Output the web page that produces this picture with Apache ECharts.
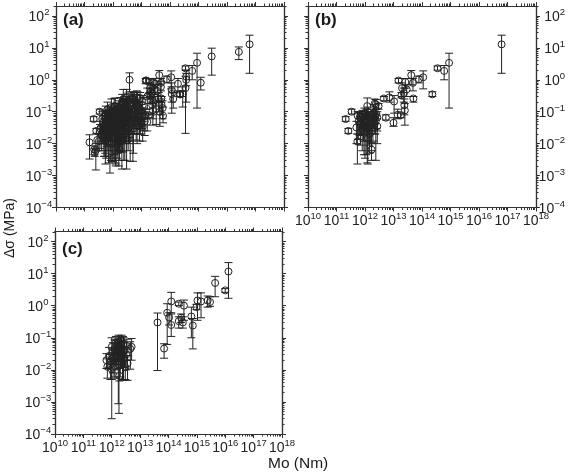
<!DOCTYPE html>
<html>
<head>
<meta charset="utf-8">
<title>Stress drop vs moment</title>
<script src="https://cdn.jsdelivr.net/npm/echarts@6/dist/echarts.min.js"></script>
<style>
  html, body { margin: 0; padding: 0; background: #fff; }
  #chart { width: 568px; height: 473px; }
</style>
</head>
<body>
<div id="chart"></div>
<script>
// tick decades
const xDecades = [10, 11, 12, 13, 14, 15, 16, 17, 18]
const yDecades = [-4, -3, -2, -1, 0, 1, 2]

// panel (b) events
const bMo = [
  6.2e16, 8.9e14, 6e14, 3.5e14, 2.3e14, 1.1e14, 7.8e13, 4.2e13, 4.8e13, 5e13,
  2.5e13, 2.4e13, 1.5e13, 2.6e13, 2.9e13, 1.9e13, 2e13, 1.05e13, 7.2e12, 5.4e12,
  4.6e12, 1e13, 1.4e13, 1.8e13, 2.3e13, 3.4e11, 2.1e11, 2.6e11, 5.4e11, 1.7e12,
  1.2e12, 2.2e12, 3e12, 2.4e12, 5e11, 5.5e11, 6e11, 6.5e11, 7e11, 7.5e11,
  8e11, 8.2e11, 8.8e11, 9.2e11, 9.5e11, 1e12, 1e12, 1.1e12, 1.15e12, 1.2e12,
  1.25e12, 1.3e12, 1.3e12, 1.4e12, 1.45e12, 1.5e12, 1.6e12, 1.7e12, 1.8e12, 1.9e12,
  2e12, 2.2e12, 2.3e12, 2.4e12, 2.5e12, 2.7e12, 2.7e12
]
const bStress = [
  12.9, 3.4, 1.9, 2.3, 0.35, 1.2, 1.05, 1.4, 0.8, 0.26,
  0.11, 0.16, 0.95, 0.85, 0.5, 0.33, 0.55, 0.21, 0.28, 0.065,
  0.26, 0.045, 0.08, 0.078, 0.38, 0.1, 0.059, 0.025, 0.0117, 0.0065,
  0.15, 0.18, 0.15, 0.17, 0.032, 0.075, 0.05, 0.068, 0.04, 0.062,
  0.028, 0.08, 0.05, 0.035, 0.09, 0.022, 0.06, 0.045, 0.075, 0.03,
  0.015, 0.055, 0.095, 0.038, 0.02, 0.07, 0.048, 0.032, 0.085, 0.06,
  0.09, 0.042, 0.07, 0.052, 0.085, 0.066, 0.035
]
const bLow = [
  1.6, 0.13, 1, 2, 0.3, 0.52, 0.8, 0.7, 0.45, 0.2,
  0.038, 0.08, 0.8, 0.55, 0.3, 0.27, 0.3, 0.09, 0.2, 0.055,
  0.22, 0.035, 0.06, 0.065, 0.2, 0.085, 0.05, 0.021, 0.0023, 0.003,
  0.03, 0.06, 0.12, 0.12, 0.01, 0.02, 0.0135, 0.018, 0.009, 0.02,
  0.006, 0.03, 0.012, 0.0045, 0.03, 0.0035, 0.02, 0.0045, 0.025, 0.0025,
  0.0023, 0.012, 0.03, 0.009, 0.005, 0.02, 0.01, 0.006, 0.025, 0.012,
  0.03, 0.02, 0.02, 0.003, 0.03, 0.025, 0.01
]
const bHigh = [
  25, 6.8, 2.8, 2.7, 0.42, 1.9, 1.3, 1.95, 1.1, 0.3,
  0.18, 0.25, 1.1, 1.1, 0.7, 0.4, 0.8, 0.32, 0.42, 0.08,
  0.3, 0.065, 0.12, 0.09, 0.55, 0.12, 0.07, 0.03, 0.02, 0.011,
  0.27, 0.25, 0.18, 0.24, 0.05, 0.1, 0.09, 0.1, 0.07, 0.09,
  0.05, 0.11, 0.09, 0.06, 0.13, 0.04, 0.1, 0.08, 0.12, 0.05,
  0.03, 0.09, 0.14, 0.065, 0.035, 0.1, 0.08, 0.05, 0.12, 0.09,
  0.17, 0.07, 0.1, 0.09, 0.13, 0.1, 0.06
]

// events only in panel (a), which shows (b) plus these
const extraMo = [
  2.6e16, 2.9e15, 1.2e15, 3.5e14, 3.7e14, 3.7e14, 1.9e14, 2.2e14, 2.8e14, 1.15e14,
  1.15e14, 1.3e14, 5.7e13, 3.8e12, 5e12, 1.5e11, 2.2e11, 2.3e11, 2.5e11, 2.8e11,
  1.4e13, 1.6e13, 2e13, 2.2e13, 2.6e13, 3e13, 3.3e13, 3.6e13, 4e13, 4.4e13,
  4.8e13, 5e13, 5.5e13, 7e12, 8e12, 9e12, 1.1e13, 1.2e13, 1.3e13, 1.6e13,
  6e12, 6.5e12, 7.5e12, 8.5e12, 9.5e12, 4.5e12, 5e12, 5.5e12, 3.5e12, 4e12,
  3.2e11, 3.6e11, 4e11, 4.4e11, 4.8e11, 5e11, 5.4e11, 5.8e11, 6.2e11, 6.6e11,
  7e11, 7.4e11, 7.8e11, 8e11, 8.4e11, 8.8e11, 9.2e11, 9.6e11, 1e12, 1.05e12,
  1.1e12, 1.15e12, 1.2e12, 1.25e12, 1.3e12, 1.35e12, 1.4e12, 1.5e12, 1.55e12, 1.6e12,
  1.7e12, 1.75e12, 1.8e12, 1.9e12, 2e12, 2.05e12, 2.1e12, 2.2e12, 2.3e12, 2.35e12,
  2.5e12, 2.6e12, 2.7e12, 2.9e12, 3e12, 3.2e12, 3.4e12, 3.5e12, 3.8e12, 4e12,
  1.5e12, 2e12, 2.5e12, 1e12, 1.2e12, 1.6e12, 2.2e12, 2.8e12, 3.2e12, 3.6e12,
  3.5e11, 4.2e11, 4.6e11, 5.2e11, 5.6e11, 6e11, 6.4e11, 6.8e11, 7.2e11, 7.6e11,
  4.2e12, 4.6e12, 5.2e12, 5.8e12, 6.4e12, 7e12, 7.8e12, 8.8e12, 1e13, 1.1e13,
  1.1e12, 1.6e12, 2.1e12, 2.6e12, 3e12, 3.4e12, 4.8e12, 5.5e12, 6.8e12, 9e12
]
const extraStress = [
  7.5, 5.4, 0.81, 0.55, 1.25, 1, 0.75, 0.35, 0.37, 0.48,
  0.36, 0.25, 0.075, 1, 0.25, 0.011, 0.0065, 0.0052, 0.0063, 0.013,
  0.95, 0.3, 0.42, 0.6, 0.2, 0.75, 0.12, 0.45, 0.25, 0.1,
  0.6, 0.17, 0.13, 0.14, 0.09, 0.05, 0.16, 0.07, 0.05, 0.048,
  0.1, 0.05, 0.07, 0.035, 0.11, 0.08, 0.04, 0.13, 0.06, 0.09,
  0.012, 0.03, 0.02, 0.045, 0.013, 0.07, 0.025, 0.015, 0.055, 0.035,
  0.02, 0.075, 0.012, 0.045, 0.03, 0.14, 0.01, 0.06, 0.022, 0.1,
  0.04, 0.015, 0.07, 0.028, 0.11, 0.05, 0.018, 0.085, 0.035, 0.008,
  0.06, 0.02, 0.16, 0.04, 0.1, 0.012, 0.07, 0.03, 0.25, 0.05,
  0.085, 0.022, 0.18, 0.045, 0.013, 0.075, 0.03, 0.12, 0.055, 0.02,
  0.045, 0.055, 0.065, 0.08, 0.055, 0.065, 0.09, 0.1, 0.14, 0.065,
  0.022, 0.06, 0.035, 0.018, 0.09, 0.04, 0.12, 0.03, 0.05, 0.085,
  0.15, 0.055, 0.03, 0.085, 0.2, 0.035, 0.12, 0.065, 0.1, 0.033,
  0.15, 0.12, 0.2, 0.15, 0.27, 0.22, 0.25, 0.28, 0.27, 0.27
]
const extraLow = [
  4.3, 1.4, 0.48, 0.021, 0.65, 0.2, 0.45, 0.3, 0.14, 0.2,
  0.09, 0.13, 0.045, 0.42, 0.2, 0.0033, 0.0045, 0.004, 0.0015, 0.006,
  0.75, 0.12, 0.18, 0.28, 0.06, 0.35, 0.04, 0.2, 0.1, 0.035,
  0.25, 0.08, 0.06, 0.05, 0.03, 0.02, 0.05, 0.025, 0.018, 0.025,
  0.03, 0.013, 0.02, 0.012, 0.03, 0.02, 0.0028, 0.04, 0.012, 0.02,
  0.006, 0.012, 0.006, 0.015, 0.004, 0.025, 0.005, 0.0035, 0.015, 0.006,
  0.0025, 0.025, 0.0012, 0.012, 0.003, 0.06, 0.0028, 0.018, 0.0028, 0.035,
  0.008, 0.003, 0.02, 0.002, 0.03, 0.009, 0.0035, 0.02, 0.006, 0.002,
  0.012, 0.0055, 0.06, 0.0055, 0.03, 0.0016, 0.015, 0.0055, 0.11, 0.012,
  0.025, 0.003, 0.06, 0.012, 0.0016, 0.02, 0.006, 0.035, 0.01, 0.0028,
  0.01, 0.012, 0.014, 0.02, 0.012, 0.013, 0.02, 0.03, 0.05, 0.015,
  0.007, 0.02, 0.01, 0.004, 0.03, 0.008, 0.045, 0.004, 0.012, 0.025,
  0.05, 0.012, 0.005, 0.02, 0.07, 0.01, 0.035, 0.02, 0.03, 0.012,
  0.06, 0.05, 0.07, 0.05, 0.12, 0.08, 0.1, 0.12, 0.1, 0.13
]
const extraHigh = [
  10.7, 9.8, 1.2, 1.3, 2, 1.6, 1.1, 0.42, 0.6, 0.8,
  0.6, 0.4, 0.14, 1.65, 0.35, 0.019, 0.0085, 0.007, 0.01, 0.02,
  1.1, 0.55, 0.7, 1, 0.35, 1.1, 0.22, 0.7, 0.4, 0.2,
  0.9, 0.3, 0.22, 0.25, 0.16, 0.09, 0.28, 0.13, 0.09, 0.08,
  0.18, 0.09, 0.12, 0.06, 0.2, 0.14, 0.07, 0.22, 0.11, 0.16,
  0.02, 0.05, 0.035, 0.075, 0.022, 0.11, 0.04, 0.028, 0.09, 0.06,
  0.035, 0.12, 0.022, 0.08, 0.055, 0.25, 0.018, 0.1, 0.04, 0.16,
  0.07, 0.028, 0.12, 0.05, 0.18, 0.09, 0.032, 0.14, 0.06, 0.014,
  0.1, 0.035, 0.28, 0.07, 0.16, 0.022, 0.12, 0.055, 0.5, 0.09,
  0.14, 0.04, 0.3, 0.08, 0.025, 0.13, 0.055, 0.2, 0.1, 0.035,
  0.08, 0.09, 0.11, 0.13, 0.09, 0.11, 0.15, 0.17, 0.25, 0.11,
  0.04, 0.1, 0.06, 0.032, 0.15, 0.07, 0.2, 0.055, 0.09, 0.14,
  0.26, 0.095, 0.055, 0.15, 0.35, 0.06, 0.2, 0.11, 0.17, 0.06,
  0.26, 0.22, 0.35, 0.26, 0.5, 0.38, 0.42, 0.4, 0.45, 0.4
]

// panel (c) events
const cMo = [
  1.3e16, 1e16, 4.4e15, 2.4e15, 2.9e15, 1.4e15, 1.05e15, 9.6e14, 7.2e14, 6.4e14,
  3.5e14, 2.3e14, 2.8e14, 3.2e14, 2.3e14, 1.25e14, 1.25e14, 1.05e14, 9e13, 7e13,
  4.1e13, 6.5e11, 7e11, 8e11, 9e11, 1e12, 1e12, 1.1e12, 1.2e12, 1.25e12,
  1.3e12, 1.4e12, 1.5e12, 1.5e12, 1.6e12, 1.7e12, 1.75e12, 1.8e12, 1.85e12, 1.9e12,
  2e12, 2e12, 2.1e12, 2.2e12, 2.3e12, 2.4e12, 2.5e12, 2.6e12, 2.8e12, 3e12,
  3.2e12, 3.4e12, 3.6e12, 4.5e12, 5e12, 1.1e12, 1.4e12, 1.7e12, 2.2e12, 2.6e12
]
const cStress = [
  11.6, 3, 5.1, 1.45, 1.3, 1.35, 1.45, 0.9, 0.24, 0.46,
  1, 1.15, 0.42, 0.3, 0.33, 1.35, 0.25, 0.43, 0.6, 0.046,
  0.3, 0.02, 0.0125, 0.027, 0.018, 0.052, 0.0105, 0.035, 0.02, 0.045,
  0.013, 0.07, 0.028, 0.04, 0.055, 0.015, 0.075, 0.032, 0.0065, 0.05,
  0.022, 0.06, 0.035, 0.08, 0.045, 0.028, 0.065, 0.02, 0.04, 0.012,
  0.03, 0.055, 0.016, 0.045, 0.052, 0.025, 0.05, 0.042, 0.03, 0.06
]
const cLow = [
  1.7, 2.6, 1.9, 0.9, 0.95, 0.42, 0.35, 0.75, 0.045, 0.1,
  0.35, 1, 0.3, 0.2, 0.2, 0.6, 0.11, 0.25, 0.062, 0.023,
  0.0095, 0.011, 0.0055, 0.012, 0.005, 0.0003, 0.005, 0.015, 0.006, 0.02,
  0.0055, 0.03, 0.01, 0.015, 0.02, 0.00088, 0.03, 0.00044, 0.0045, 0.02,
  0.006, 0.025, 0.012, 0.03, 0.015, 0.005, 0.025, 0.0047, 0.012, 0.005,
  0.01, 0.02, 0.0047, 0.0105, 0.02, 0.008, 0.018, 0.014, 0.012, 0.02
]
const cHigh = [
  22, 3.4, 8.2, 2, 1.9, 2.5, 2.5, 1.1, 0.4, 0.9,
  1.5, 1.3, 0.55, 0.45, 0.45, 2.6, 0.55, 0.6, 1.15, 0.065,
  0.59, 0.032, 0.022, 0.05, 0.03, 0.1, 0.018, 0.07, 0.035, 0.085,
  0.022, 0.11, 0.05, 0.07, 0.09, 0.025, 0.12, 0.055, 0.011, 0.08,
  0.04, 0.1, 0.06, 0.12, 0.08, 0.05, 0.11, 0.035, 0.07, 0.02,
  0.05, 0.09, 0.028, 0.075, 0.095, 0.045, 0.085, 0.07, 0.05, 0.1
]

const FONT = '"Liberation Sans", Arial, sans-serif'
const INK = '#222'
const AXIS_INK = '#333'
const X_MIN = 1e10
const X_MAX = 1.0001e18 // a bare 1e18 drops the last tick to rounding
const Y_MIN = 1e-4
const Y_MAX = 205

function minorsOf (decades, limit) {
  const list = []
  decades.forEach(d => {
    for (let m = 2; m <= 9; m++) {
      const v = Number(m + 'e' + d)
      if (v < limit) list.push(v)
    }
  })
  return list
}

const xMajors = xDecades.map(d => Number('1e' + d))
const yMajors = yDecades.map(d => Number('1e' + d))
const xMinors = minorsOf(xDecades, X_MAX)
const yMinors = minorsOf(yDecades, Y_MAX)

function tickLabel (v) {
  const exp = Math.round(Math.log10(v))
  return '{b|10}{s|' + String(exp).replace('-', '\u2212') + '}'
}

const labelRich = {
  b: { fontFamily: FONT, fontSize: 14, color: INK, lineHeight: 17, verticalAlign: 'bottom' },
  s: { fontFamily: FONT, fontSize: 9.5, color: INK, lineHeight: 17, verticalAlign: 'top' }
}

function axisBase (dim, position, gridIndex, values, tickLen, labelled) {
  const axis = {
    type: 'log',
    logBase: 10,
    gridIndex: gridIndex,
    position: position,
    min: dim === 'x' ? X_MIN : Y_MIN,
    max: dim === 'x' ? X_MAX : Y_MAX,
    splitLine: { show: false },
    minorTick: { show: false },
    axisLine: { show: true, onZero: false, lineStyle: { color: AXIS_INK, width: 1.2 } },
    axisTick: { show: true, length: tickLen, customValues: values, lineStyle: { color: AXIS_INK, width: 1 } },
    axisLabel: { show: false }
  }
  if (labelled) {
    axis.axisLabel = {
      show: true,
      margin: 4,
      showMinLabel: true,
      showMaxLabel: true,
      customValues: values,
      formatter: tickLabel,
      rich: labelRich
    }
    // left labels sit centred in their column, the right ones end at the page edge
    if (dim === 'y' && position === 'left') {
      axis.axisLabel.align = 'center'
      axis.axisLabel.margin = 17
    }
    if (dim === 'y' && position === 'right') {
      axis.axisLabel.align = 'right'
      axis.axisLabel.margin = 29
    }
  }
  return axis
}

// one row per panel
const panels = [
  { label: '(a)', left: 56, top: 6, width: 228, height: 201.5, labelTop: 12, xLabels: false, yPos: 'left',
    mo: bMo.concat(extraMo), stress: bStress.concat(extraStress), low: bLow.concat(extraLow), high: bHigh.concat(extraHigh) },
  { label: '(b)', left: 308, top: 6, width: 228, height: 201.5, labelTop: 12, xLabels: true, yPos: 'right',
    mo: bMo, stress: bStress, low: bLow, high: bHigh },
  { label: '(c)', left: 55, top: 231.5, width: 227, height: 202.5, labelTop: 241, xLabels: true, yPos: 'left',
    mo: cMo, stress: cStress, low: cLow, high: cHigh }
]

const grids = []
const xAxes = []
const yAxes = []
const series = []
const graphics = []

function errorBar (params, api) {
  const x = api.value(0)
  const top = api.coord([x, api.value(2)])
  const bottom = api.coord([x, api.value(1)])
  const style = { stroke: INK, lineWidth: 1, fill: null }
  const cap = 4
  return {
    type: 'group',
    children: [
      { type: 'line', shape: { x1: top[0], y1: top[1], x2: bottom[0], y2: bottom[1] }, style: style },
      { type: 'line', shape: { x1: top[0] - cap, y1: top[1], x2: top[0] + cap, y2: top[1] }, style: style },
      { type: 'line', shape: { x1: bottom[0] - cap, y1: bottom[1], x2: bottom[0] + cap, y2: bottom[1] }, style: style }
    ]
  }
}

panels.forEach((p, i) => {
  grids.push({ left: p.left, top: p.top, width: p.width, height: p.height })

  const xIndex = xAxes.length
  xAxes.push(axisBase('x', 'bottom', i, xMajors, 4, p.xLabels))
  xAxes.push(axisBase('x', 'bottom', i, xMinors, 2.5, false))
  xAxes.push(axisBase('x', 'top', i, xMajors, 4, false))
  xAxes.push(axisBase('x', 'top', i, xMinors, 2.5, false))

  const yIndex = yAxes.length
  const yOther = p.yPos === 'left' ? 'right' : 'left'
  yAxes.push(axisBase('y', p.yPos, i, yMajors, 4, true))
  yAxes.push(axisBase('y', p.yPos, i, yMinors, 2.5, false))
  yAxes.push(axisBase('y', yOther, i, yMajors, 4, false))
  yAxes.push(axisBase('y', yOther, i, yMinors, 2.5, false))

  series.push({
    type: 'custom',
    xAxisIndex: xIndex,
    yAxisIndex: yIndex,
    silent: true,
    animation: false,
    clip: false,
    encode: { x: 0, y: [1, 2] },
    data: p.mo.map((m, k) => [m, p.low[k], p.high[k]]),
    renderItem: errorBar
  })
  series.push({
    type: 'scatter',
    xAxisIndex: xIndex,
    yAxisIndex: yIndex,
    silent: true,
    animation: false,
    symbol: 'circle',
    symbolSize: 7,
    itemStyle: { color: 'rgba(0,0,0,0)', borderColor: INK, borderWidth: 1, opacity: 1 },
    data: p.mo.map((m, k) => [m, p.stress[k]])
  })

  graphics.push({
    type: 'text',
    left: p.left + 7,
    top: p.labelTop,
    style: { text: p.label, fontFamily: FONT, fontWeight: 'bold', fontSize: 17, fill: '#1a1a1a' }
  })
})

graphics.push({
  type: 'text',
  left: 268,
  top: 456,
  style: { text: 'Mo (Nm)', fontFamily: FONT, fontSize: 15.5, fill: '#1a1a1a' }
})
graphics.push({
  type: 'text',
  x: 10,
  y: 228,
  rotation: Math.PI / 2,
  style: { text: '\u0394\u03c3 (MPa)', fontFamily: FONT, fontSize: 14, fill: '#1a1a1a', align: 'center', verticalAlign: 'middle' }
})

const chart = echarts.init(document.getElementById('chart'), null, { renderer: 'canvas' })
chart.setOption({
  animation: false,
  backgroundColor: '#fff',
  textStyle: { fontFamily: FONT },
  tooltip: { show: false },
  grid: grids,
  xAxis: xAxes,
  yAxis: yAxes,
  series: series,
  graphic: graphics
})
</script>
</body>
</html>
